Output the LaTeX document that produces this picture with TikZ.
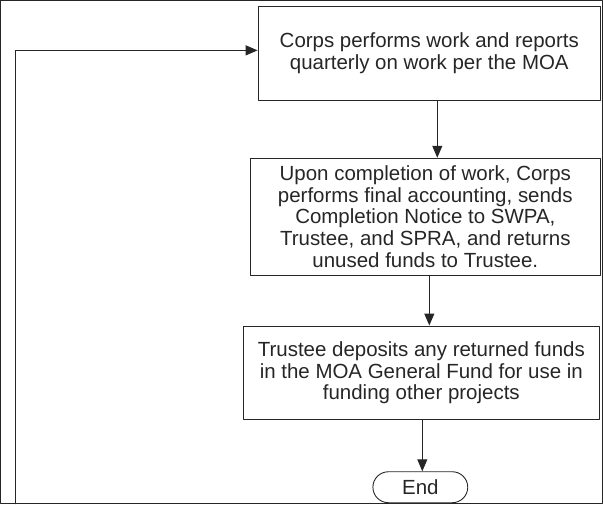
\documentclass[tikz,border=0pt]{standalone}
\usepackage{fontspec}
\setmainfont{Liberation Sans}
\usetikzlibrary{arrows.meta,shapes.misc}
\tikzset{every node/.style={inner sep=0pt,text=black!85},every path/.style={line width=0.9pt,draw=black!85,line cap=round,line join=round}}
\tikzset{stepbox/.style={draw,rectangle,align=center,font=\fontsize{20.5}{21.7}\selectfont},
  endbox/.style={draw,rounded rectangle,minimum width=95pt,minimum height=31pt,font=\fontsize{20.5}{21.7}\selectfont},
  arr/.style={line width=1.1pt,-{Triangle[length=12pt,width=10pt]}}}

\begin{document}
\begin{tikzpicture}[x=1pt,y=-1pt]
  \useasboundingbox (0,0) rectangle (603,504);
  \node[stepbox,minimum width=343pt,minimum height=94pt] (work) at (429.5,53) {Corps performs work and reports\\quarterly on work per the MOA};
  \node[stepbox,minimum width=351pt,minimum height=117pt] (final) at (425.5,216.5) {Upon completion of work, Corps\\performs final accounting, sends\\Completion Notice to SWPA,\\Trustee, and SPRA, and returns\\unused funds to Trustee.};
  \node[stepbox,minimum width=357pt,minimum height=94pt] (deposit) at (421.5,373) {Trustee deposits any returned funds\\in the MOA General Fund for use in\\funding other projects};
  \node[endbox] (end) at (420.5,487.5) {End};
  \coordinate (loopbot) at (15,504);
  \coordinate (looptop) at (15,50);
  \draw[arr] ([xshift=8pt]work.south) -- ([xshift=8pt]work.south |- final.north);
  \draw[arr] ([xshift=4pt]final.south) -- ([xshift=4pt]final.south |- deposit.north);
  \draw[arr] ([xshift=1pt]deposit.south) -- ([xshift=1pt]deposit.south |- end.north);
  \draw[arr] (loopbot) -- (looptop) -- (looptop -| work.west);
\end{tikzpicture}
\end{document}
